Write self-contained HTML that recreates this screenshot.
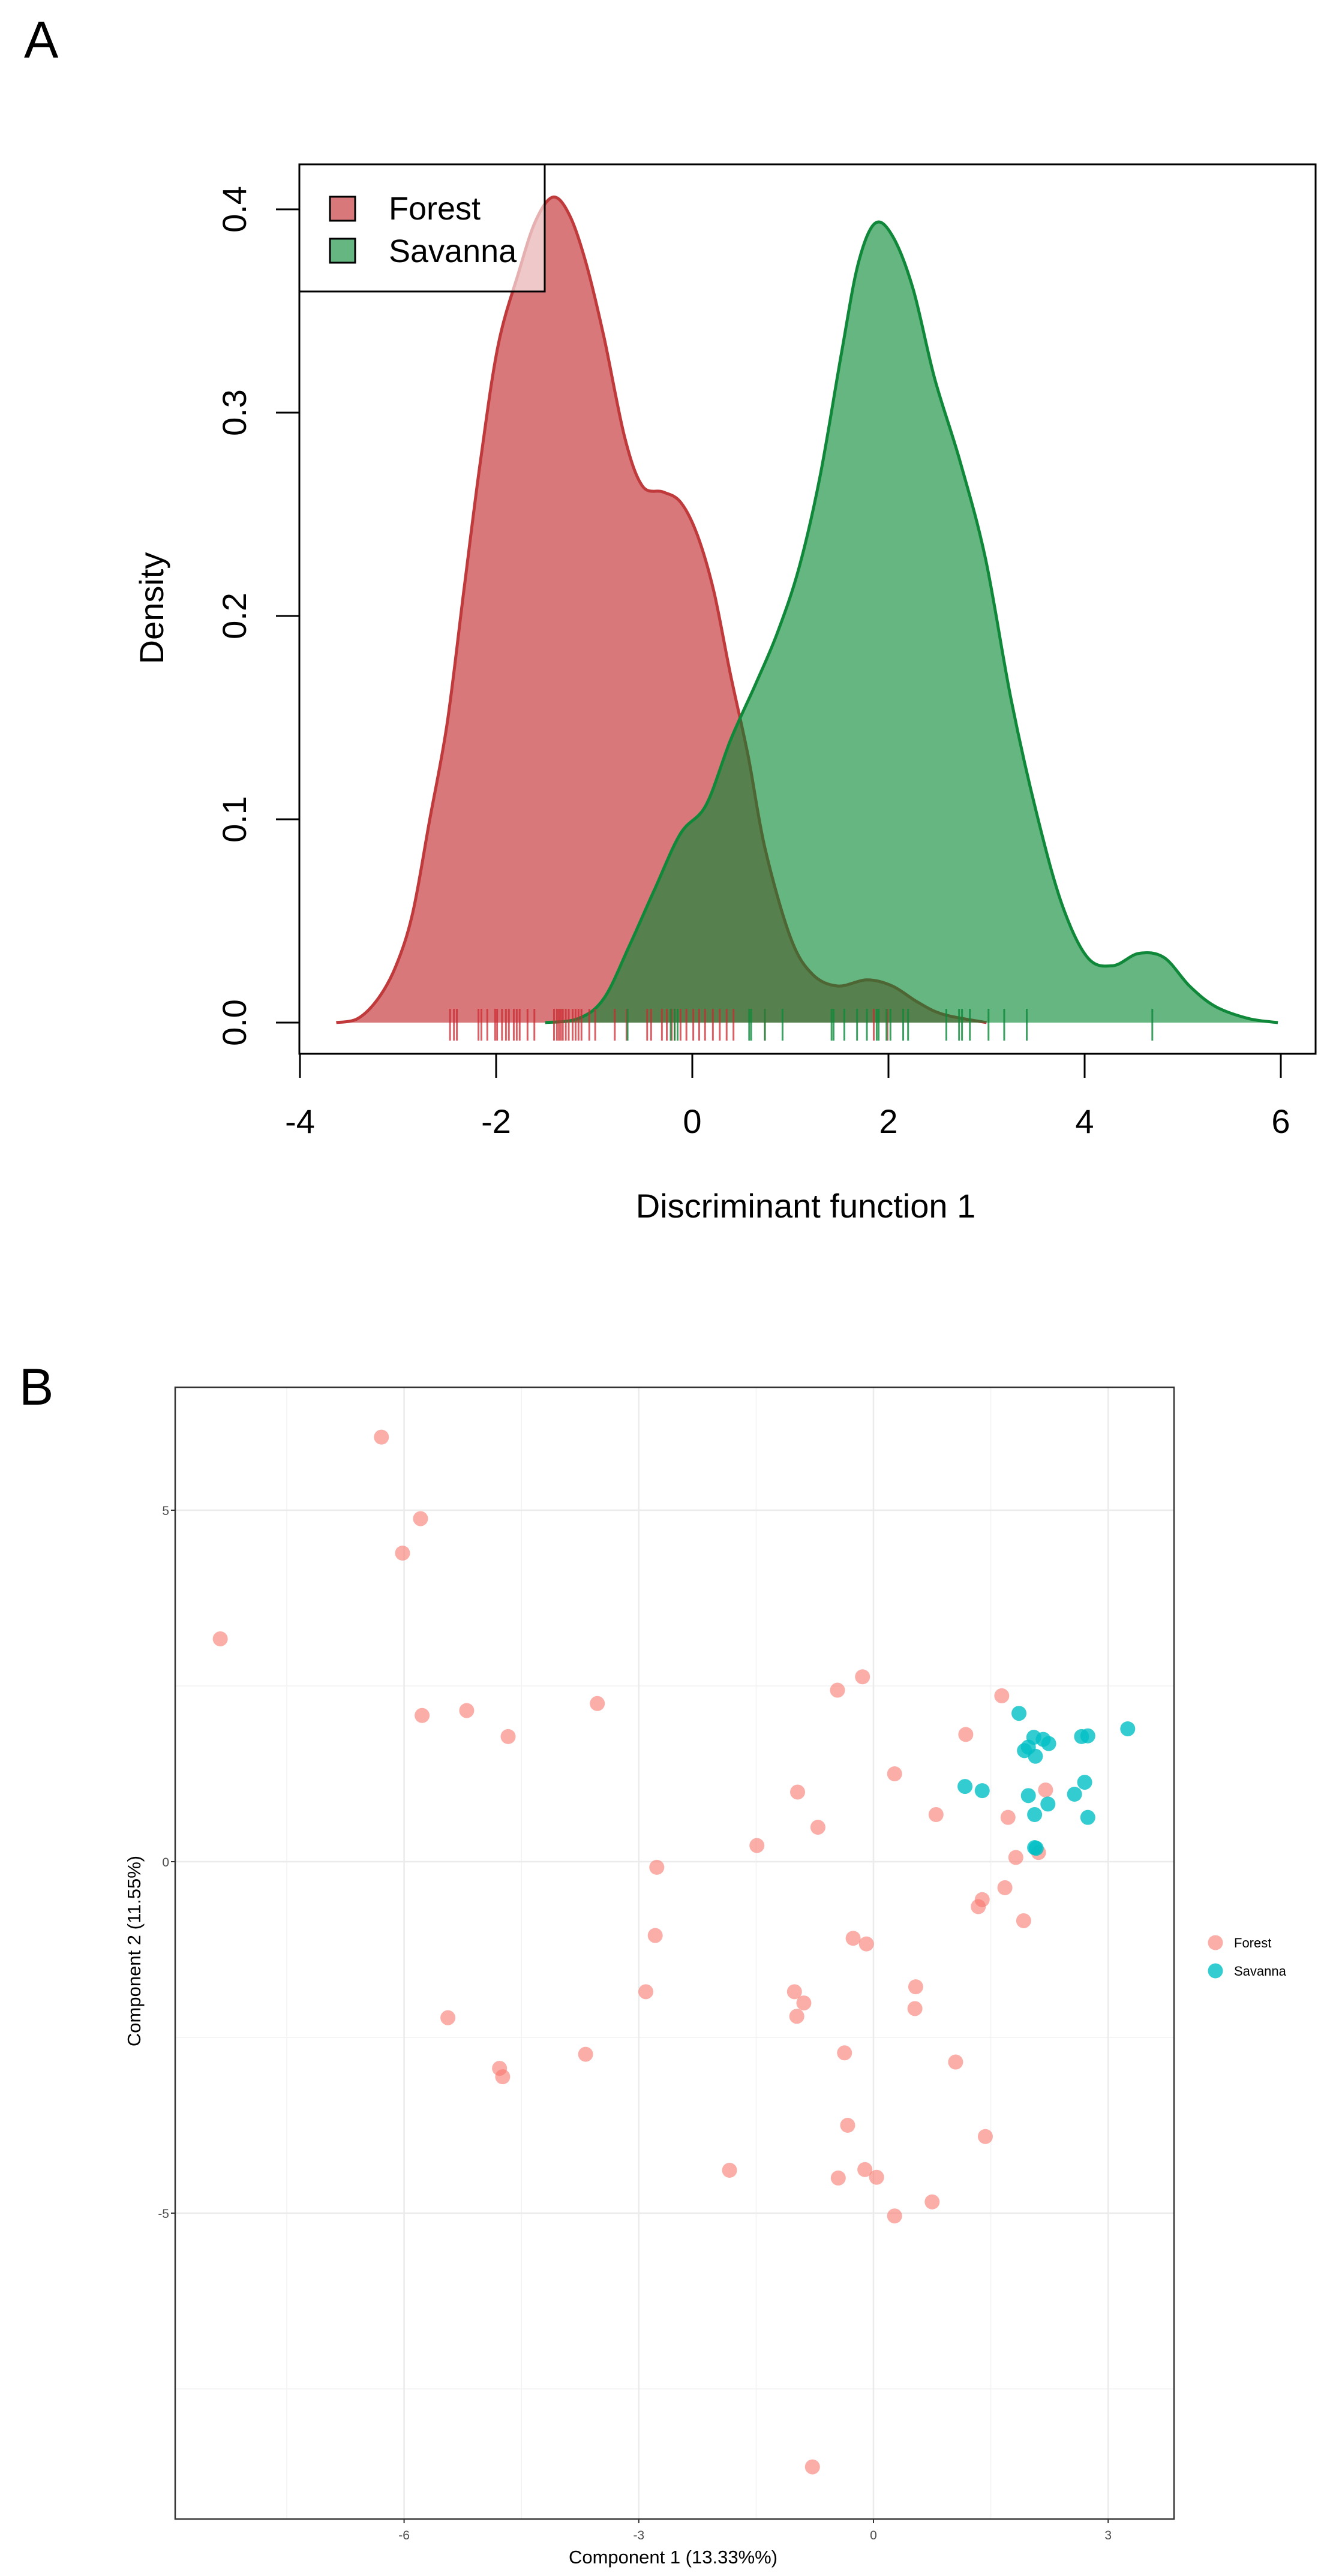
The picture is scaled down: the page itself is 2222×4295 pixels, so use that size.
<!DOCTYPE html>
<html><head><meta charset="utf-8"><style>
html,body{margin:0;padding:0;background:#fff;}
svg{display:block;font-family:"Liberation Sans",Arial,sans-serif;}
</style></head><body>
<svg id="fig" width="2222" height="4295" viewBox="0 0 2222 4295" xmlns="http://www.w3.org/2000/svg">
<rect width="2222" height="4295" fill="#fff"/>
<text x="40" y="96" font-size="86">A</text>
<g id="pa"></g>
<text x="32" y="2342" font-size="86">B</text>
<g id="pb"></g>
</svg>
<script>
// ---- Panel A data ----
const forestX = [-3.63,-3.41,-3.2,-3.02,-2.85,-2.68,-2.5,-2.33,-2.16,-1.98,-1.77,-1.6,-1.42,-1.25,-1.08,-0.9,-0.69,-0.51,-0.3,-0.12,0.05,0.22,0.39,0.57,0.74,1.0,1.22,1.48,1.78,2.04,2.3,2.56,3.0];
const forestY = [0,0.002,0.012,0.028,0.054,0.099,0.147,0.212,0.276,0.333,0.369,0.394,0.406,0.397,0.373,0.337,0.288,0.264,0.261,0.256,0.24,0.212,0.171,0.131,0.086,0.042,0.024,0.018,0.021,0.018,0.01,0.004,0];
const savannaX = [-1.5,-1.16,-0.9,-0.64,-0.38,-0.12,0.14,0.39,0.65,0.87,1.09,1.3,1.52,1.69,1.86,2.04,2.25,2.47,2.73,2.99,3.25,3.51,3.77,4.03,4.29,4.55,4.81,5.07,5.33,5.67,5.97];
const savannaY = [0,0.002,0.012,0.038,0.066,0.093,0.107,0.139,0.167,0.192,0.224,0.268,0.329,0.373,0.393,0.387,0.361,0.317,0.276,0.228,0.159,0.103,0.058,0.032,0.028,0.034,0.032,0.018,0.008,0.002,0];
const forestRug = [-2.47,-2.43,-2.40,-2.18,-2.15,-2.09,-2.01,-1.99,-1.94,-1.90,-1.87,-1.82,-1.79,-1.76,-1.68,-1.61,-1.41,-1.38,-1.36,-1.34,-1.32,-1.29,-1.26,-1.22,-1.19,-1.16,-1.13,-1.05,-0.99,-0.79,-0.67,-0.46,-0.42,-0.31,-0.26,-0.21,-0.18,-0.12,-0.06,0.01,0.07,0.13,0.21,0.28,0.35,0.42,0.74,1.85,1.99];
const savannaRug = [-0.66,-0.22,-0.18,-0.15,0.58,0.60,0.74,0.92,1.42,1.44,1.55,1.68,1.78,1.88,1.90,1.98,2.02,2.15,2.20,2.59,2.72,2.75,2.83,3.02,3.18,3.41,4.69];
const aXTicks = [-4,-2,0,2,4,6];
const aYTicks = [0,0.1,0.2,0.3,0.4];
const aYTickLabels = ["0.0","0.1","0.2","0.3","0.4"];

// ---- Panel B data ----
const bForestX = [-6.29,-5.79,-6.02,-8.35,-5.77,-5.20,-4.67,-3.53,-0.46,-0.14,1.64,1.18,0.27,-0.97,-0.71,-1.49,0.80,1.72,2.20,2.11,1.82,-2.77,1.68,1.39,1.34,1.92,-2.79,-0.26,-0.09,-2.91,-1.01,-0.89,-0.98,0.54,0.53,-5.44,-3.68,-4.78,-4.74,-0.37,1.05,-0.33,1.43,-1.84,-0.45,-0.11,0.04,0.75,0.27,-0.78];
const bForestY = [6.04,4.88,4.39,3.17,2.08,2.15,1.78,2.25,2.44,2.63,2.36,1.81,1.25,0.99,0.49,0.23,0.67,0.63,1.02,0.13,0.06,-0.08,-0.37,-0.54,-0.64,-0.84,-1.05,-1.09,-1.17,-1.85,-1.85,-2.01,-2.20,-1.78,-2.09,-2.22,-2.74,-2.94,-3.06,-2.72,-2.85,-3.75,-3.91,-4.39,-4.50,-4.38,-4.49,-4.84,-5.04,-8.61];
const bSavX = [1.86,2.05,2.17,2.24,1.93,2.07,1.98,2.66,2.74,3.25,1.17,1.39,1.98,2.23,2.06,2.57,2.70,2.74,2.08,2.06];
const bSavY = [2.11,1.77,1.74,1.68,1.58,1.50,1.63,1.78,1.79,1.89,1.07,1.01,0.94,0.82,0.67,0.96,1.13,0.63,0.19,0.20];
const bXTicks = [-6,-3,0,3];
const bYTicks = [-5,0,5];
const bXMinor = [-7.5,-4.5,-1.5,1.5];
const bYMinor = [-7.5,-2.5,2.5];

const NS = "http://www.w3.org/2000/svg";
function mk(parent, tag, attrs, text){
  const e = document.createElementNS(NS, tag);
  for (const k in attrs) e.setAttribute(k, attrs[k]);
  if (text !== undefined) e.textContent = text;
  parent.appendChild(e);
  return e;
}

// ---- Panel A ----
(function(){
  const g = document.getElementById('pa');
  const L=499, R=2193, T=274, B=1757;
  const ax = v => 1154 + v*163.5;
  const ay = v => 1705 - v*3390;
  function smooth(xs, ys){
    const p = xs.map((x,i)=>[ax(x), ay(ys[i])]);
    let d = 'M' + p[0][0].toFixed(1) + ',' + p[0][1].toFixed(1);
    for (let i=0;i<p.length-1;i++){
      const p0 = p[Math.max(0,i-1)], p1 = p[i], p2 = p[i+1], p3 = p[Math.min(p.length-1,i+2)];
      const c1x = p1[0] + (p2[0]-p0[0])/6, c1y = Math.min(ay(0), p1[1] + (p2[1]-p0[1])/6);
      const c2x = p2[0] - (p3[0]-p1[0])/6, c2y = Math.min(ay(0), p2[1] - (p3[1]-p1[1])/6);
      d += ' C' + c1x.toFixed(1)+','+c1y.toFixed(1)+' '+c2x.toFixed(1)+','+c2y.toFixed(1)+' '+p2[0].toFixed(1)+','+p2[1].toFixed(1);
    }
    return d;
  }
  const fd = smooth(forestX, forestY), sd = smooth(savannaX, savannaY);
  const fa = mk(g,'path',{d:fd+' Z',fill:'rgb(190,30,35)','fill-opacity':'0.6',stroke:'none'});
  
  
  const fl = mk(g,'path',{d:fd,fill:'none',stroke:'#c0393b','stroke-width':'5','stroke-linejoin':'round'});
  
  
  const sa = mk(g,'path',{d:sd+' Z',fill:'rgb(0,133,47)','fill-opacity':'0.6',stroke:'none'});
  
  
  const sl = mk(g,'path',{d:sd,fill:'none',stroke:'#10883a','stroke-width':'5','stroke-linejoin':'round'});
  
  
  forestRug.forEach(v=>{
    const r = mk(g,'line',{x1:ax(v),x2:ax(v),y1:1682,y2:1735,stroke:'#cc2a30','stroke-width':'3','stroke-opacity':'0.75'});
    
    
  });
  savannaRug.forEach(v=>{
    const r = mk(g,'line',{x1:ax(v),x2:ax(v),y1:1682,y2:1735,stroke:'#0c8a3a','stroke-width':'3','stroke-opacity':'0.8'});
    
    
  });
  const box = mk(g,'rect',{x:L,y:T,width:R-L,height:B-T,fill:'none',stroke:'#000','stroke-width':'3'});
  
  
  mk(g,'line',{x1:ax(-4),x2:ax(6),y1:B,y2:B,stroke:'#000','stroke-width':'3'});
  aXTicks.forEach(v=>{
    const t = mk(g,'line',{x1:ax(v),x2:ax(v),y1:B,y2:1797,stroke:'#000','stroke-width':'3'});
    
    
    const lb = mk(g,'text',{x:ax(v),y:1889,'font-size':'56','text-anchor':'middle'}, String(v));
    
    
  });
  mk(g,'line',{x1:L,x2:L,y1:ay(0),y2:ay(0.4),stroke:'#000','stroke-width':'3'});
  aYTicks.forEach((v,i)=>{
    const t = mk(g,'line',{x1:L,x2:460,y1:ay(v),y2:ay(v),stroke:'#000','stroke-width':'3'});
    
    
    const lb = mk(g,'text',{x:0,y:0,'font-size':'56','text-anchor':'middle',transform:'translate(410,'+ay(v)+') rotate(-90)'}, aYTickLabels[i]);
    
    
  });
  const xt = mk(g,'text',{x:1343,y:2030,'font-size':'56','text-anchor':'middle'},'Discriminant function 1');
  
  
  const yt = mk(g,'text',{x:0,y:0,'font-size':'56','text-anchor':'middle',transform:'translate(272,1014) rotate(-90)'},'Density');
  
  
  const lg = mk(g,'g',{});
  
  
  mk(lg,'rect',{x:L,y:T,width:409,height:212,fill:'#fff','fill-opacity':'0.6',stroke:'#000','stroke-width':'3'});
  const s1 = mk(lg,'rect',{x:550,y:328,width:42,height:40,fill:'rgb(190,30,35)','fill-opacity':'0.6',stroke:'#000','stroke-width':'3'});
  
  
  const t1 = mk(lg,'text',{x:648,y:366,'font-size':'54'},'Forest');
  
  
  const s2 = mk(lg,'rect',{x:550,y:398,width:42,height:40,fill:'rgb(0,133,47)','fill-opacity':'0.6',stroke:'#000','stroke-width':'3'});
  
  
  const t2 = mk(lg,'text',{x:648,y:437,'font-size':'54'},'Savanna');
  
  
})();

// ---- Panel B ----
(function(){
  const g = document.getElementById('pb');
  const L=292, R=1957, T=2313, B=4200;
  const bx = v => 1456 + v*130.4;
  const by = v => 3104 - v*117.2;
  bXMinor.forEach(v=>{ const l=mk(g,'line',{x1:bx(v),x2:bx(v),y1:T,y2:B,stroke:'#f2f2f2','stroke-width':'1.5'});   });
  bYMinor.forEach(v=>{ const l=mk(g,'line',{x1:L,x2:R,y1:by(v),y2:by(v),stroke:'#f2f2f2','stroke-width':'1.5'});   });
  bXTicks.forEach(v=>{
    const l=mk(g,'line',{x1:bx(v),x2:bx(v),y1:T,y2:B,stroke:'#ebebeb','stroke-width':'2.5'});
    
    
    mk(g,'line',{x1:bx(v),x2:bx(v),y1:B,y2:B+7,stroke:'#333','stroke-width':'2'});
    const lb=mk(g,'text',{x:bx(v),y:4234,'font-size':'21','text-anchor':'middle',fill:'#4d4d4d'}, String(v));
    
    
  });
  bYTicks.forEach(v=>{
    const l=mk(g,'line',{x1:L,x2:R,y1:by(v),y2:by(v),stroke:'#ebebeb','stroke-width':'2.5'});
    
    
    mk(g,'line',{x1:L-7,x2:L,y1:by(v),y2:by(v),stroke:'#333','stroke-width':'2'});
    const lb=mk(g,'text',{x:L-10,y:by(v)+8,'font-size':'21','text-anchor':'end',fill:'#4d4d4d'}, String(v));
    
    
  });
  bForestX.forEach((v,i)=>{
    const c=mk(g,'circle',{cx:bx(v),cy:by(bForestY[i]),r:12.5,fill:'#F8766D','fill-opacity':'0.6'});
    
    
  });
  bSavX.forEach((v,i)=>{
    const c=mk(g,'circle',{cx:bx(v),cy:by(bSavY[i]),r:12.5,fill:'#00BFC4','fill-opacity':'0.8'});
    
    
  });
  const box=mk(g,'rect',{x:L,y:T,width:R-L,height:B-T,fill:'none',stroke:'#333','stroke-width':'2.5'});
  
  
  const xt=mk(g,'text',{x:1122,y:4274,'font-size':'31','text-anchor':'middle'},'Component 1 (13.33%%)');
  
  
  const yt=mk(g,'text',{x:0,y:0,'font-size':'31','text-anchor':'middle',transform:'translate(234,3253) rotate(-90)'},'Component 2 (11.55%)');
  
  
  const lg=mk(g,'g',{});
  
  
  const d1=mk(lg,'circle',{cx:2026,cy:3239,r:12.5,fill:'#F8766D','fill-opacity':'0.6'});
  
  
  const l1=mk(lg,'text',{x:2057,y:3247,'font-size':'22'},'Forest');
  
  
  const d2=mk(lg,'circle',{cx:2026,cy:3286,r:12.5,fill:'#00BFC4','fill-opacity':'0.8'});
  
  
  const l2=mk(lg,'text',{x:2057,y:3294,'font-size':'22'},'Savanna');
  
  
})();
</script>
</body></html>
